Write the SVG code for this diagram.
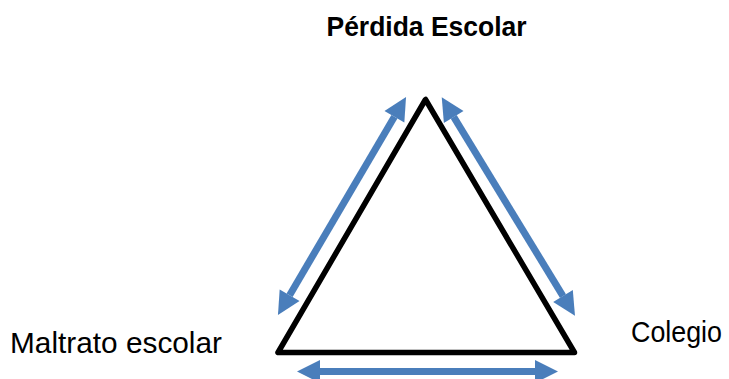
<svg xmlns="http://www.w3.org/2000/svg" width="729" height="379" viewBox="0 0 729 379">
  <style>
    .lbl { font-family: "Liberation Sans", Arial, sans-serif; font-size: 29px; fill: #000; }
    .bold { font-weight: bold; font-size: 28px; }
    .arrow { stroke: #4A7EBB; stroke-width: 7; fill: none; marker-start: url(#head); marker-end: url(#head); }
  </style>
  <defs>
    <marker id="head" markerUnits="userSpaceOnUse" markerWidth="24" markerHeight="24" viewBox="0 -12 23 24" refX="0" refY="0" orient="auto-start-reverse">
      <path d="M0,-11.5 L23,0 L0,11.5 Z" fill="#4A7EBB"/>
    </marker>
  </defs>
  <rect width="729" height="379" fill="#fff"/>

  <g id="triangle">
    <polygon points="425.5,99.5 278,352.5 574.5,352.5" fill="none" stroke="#000" stroke-width="5.5" stroke-linejoin="round"/>
  </g>

  <g id="node-perdida">
    <text class="lbl bold" x="426.5" y="36" text-anchor="middle" textLength="200" lengthAdjust="spacingAndGlyphs">Pérdida Escolar</text>
  </g>
  <g id="node-maltrato">
    <text class="lbl" x="10" y="353" textLength="212" lengthAdjust="spacingAndGlyphs">Maltrato escolar</text>
  </g>
  <g id="node-colegio">
    <text class="lbl" x="631" y="341.5" textLength="91" lengthAdjust="spacingAndGlyphs">Colegio</text>
  </g>

  <g id="connectors">
    <line class="arrow" x1="289.6" y1="295.2" x2="394.4" y2="116.8"/>
    <line class="arrow" x1="453.7" y1="116.9" x2="563" y2="296.1"/>
    <line class="arrow" x1="320" y1="371.5" x2="535" y2="371.5"/>
  </g>
</svg>
